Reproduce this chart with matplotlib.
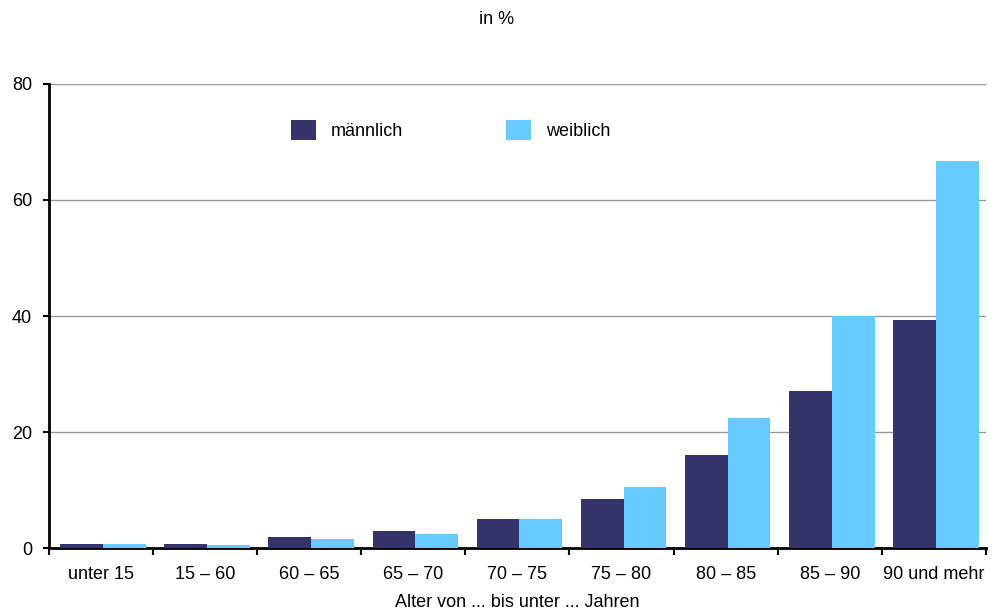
import matplotlib.pyplot as plt
import numpy as np

# Altersgruppen und Anteile in %
categories = ["unter 15", "15 – 60", "60 – 65", "65 – 70", "70 – 75",
              "75 – 80", "80 – 85", "85 – 90", "90 und mehr"]
maennlich = [0.7, 0.7, 1.9, 2.9, 5.0, 8.4, 16.0, 27.1, 39.3]
weiblich = [0.7, 0.6, 1.5, 2.4, 5.0, 10.5, 22.4, 40.0, 66.7]

plt.rcParams["font.family"] = ["Liberation Sans", "DejaVu Sans"]
plt.rcParams["font.size"] = 13

fig = plt.figure(figsize=(9.94, 6.13), dpi=100)
ax = fig.add_axes([0.049, 0.106, 0.943, 0.757])

x = np.arange(len(categories))
w = 0.41
ax.bar(x - w / 2 + 0.02, maennlich, w, color="#35346a", label="männlich", zorder=3)
ax.bar(x + w / 2 + 0.02, weiblich, w, color="#66ccff", label="weiblich", zorder=3)

ax.set_xlim(-0.5, len(categories) - 0.5)
ax.set_ylim(0, 80)
ax.set_yticks([0, 20, 40, 60, 80])
ax.yaxis.grid(True, color="#999999", linewidth=1, zorder=0)
ax.tick_params(axis="y", length=4, width=1.5, pad=8, labelsize=13)

# Teilstriche an den Kategoriegrenzen
ax.set_xticks(np.arange(len(categories) + 1) - 0.5)
ax.set_xticklabels([])
ax.set_xticks(x, minor=True)
ax.set_xticklabels(categories, minor=True)
ax.tick_params(axis="x", which="major", length=5, width=1.5, direction="out")
ax.tick_params(axis="x", which="minor", length=0, pad=13, labelsize=13)

for s in ["top", "right"]:
    ax.spines[s].set_visible(False)
ax.spines["left"].set_linewidth(2)
ax.spines["bottom"].set_linewidth(2)

ax.set_xlabel("Alter von ... bis unter ... Jahren", fontsize=13, labelpad=8)
fig.text(0.5, 1 - 20 / 613, "in %", ha="center", va="center", fontsize=13)

fig.legend(loc="center", bbox_to_anchor=(451 / 994, 1 - 130 / 613), ncol=2,
           frameon=False, handlelength=1.39, handleheight=1.39,
           handletextpad=0.83, columnspacing=5.7, fontsize=13)

fig.savefig("out.png", dpi=100)
